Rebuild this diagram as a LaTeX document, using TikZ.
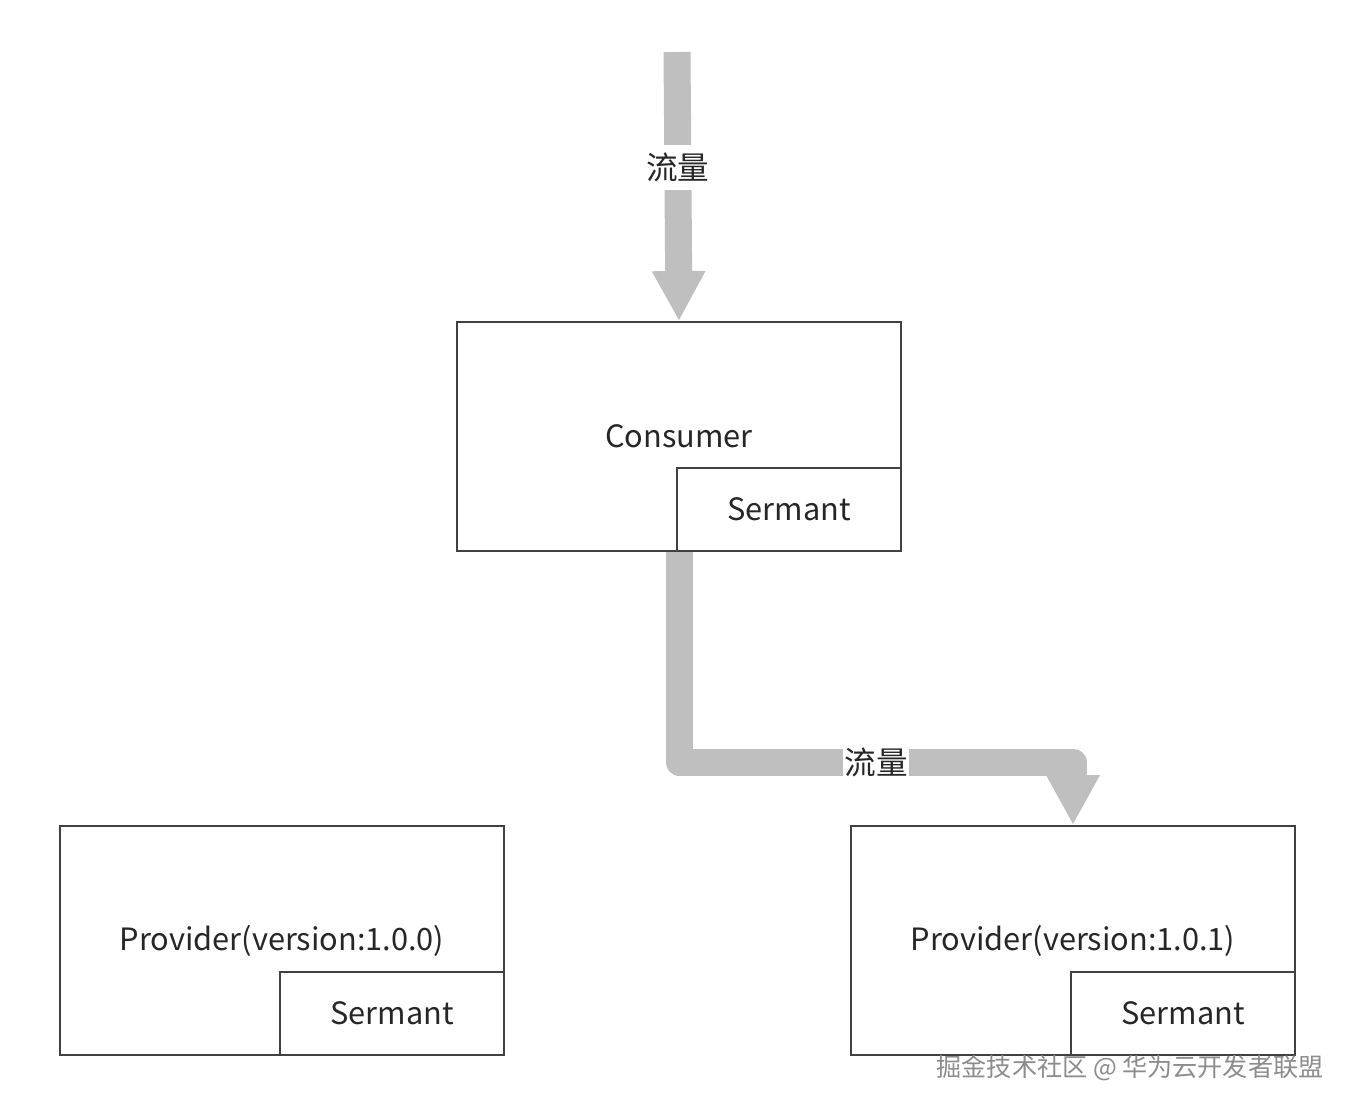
\documentclass[tikz,border=0pt]{standalone}
\usepackage{fontspec}
\setmainfont{Noto Sans CJK SC}
\usepackage{tikz}
\usetikzlibrary{positioning,arrows.meta}

\begin{document}
\begin{tikzpicture}[
x=0.02cm, y=-0.02cm,
hostbox/.style={draw=black!75, line width=1.1pt, minimum width=8.88cm, minimum height=4.58cm, inner sep=0pt, font=\fontsize{17.5}{21}\selectfont, text=black!85},
agentbox/.style={draw=black!75, line width=1.1pt, minimum width=4.48cm, minimum height=1.66cm, inner sep=0pt, anchor=south east, font=\fontsize{17.5}{21}\selectfont, text=black!85},
flow/.style={draw=black!25, line width=0.54cm, line join=round, -{Triangle[length=1cm, width=1cm]}},
flowlabel/.style={fill=white, inner xsep=1pt, inner ysep=4.5pt, font=\fontsize{18}{22}\selectfont, text=black!85},
watermark/.style={font=\fontsize{14.3}{17}\selectfont, text=black!45}
]
\useasboundingbox (0,0) rectangle (1351,1111);

% boxes
\node[hostbox] (consumer) at (679,436.5) {Consumer};
\node[agentbox] (sermantC) at (consumer.south east) {Sermant};
\node[hostbox] (providerA) at (282,940.5) {Provider(version:1.0.0)};
\node[agentbox] (sermantA) at (providerA.south east) {Sermant};
\node[hostbox] (providerB) at (1073,940.5) {Provider(version:1.0.1)};
\node[agentbox] (sermantB) at (providerB.south east) {Sermant};

% traffic
\coordinate (entry) at (677,52);
\coordinate (bend) at (679,762);
\draw[flow] (entry) -- node[flowlabel, pos=0.43] (labelIn) {流量} (consumer.north);
\draw[flow] (consumer.south) -- (bend) -| node[flowlabel, pos=0.25] (labelOut) {流量} (providerB.north);

\node[watermark] (credit) at (1130,1068) {掘金技术社区 @ 华为云开发者联盟};
\end{tikzpicture}
\end{document}
